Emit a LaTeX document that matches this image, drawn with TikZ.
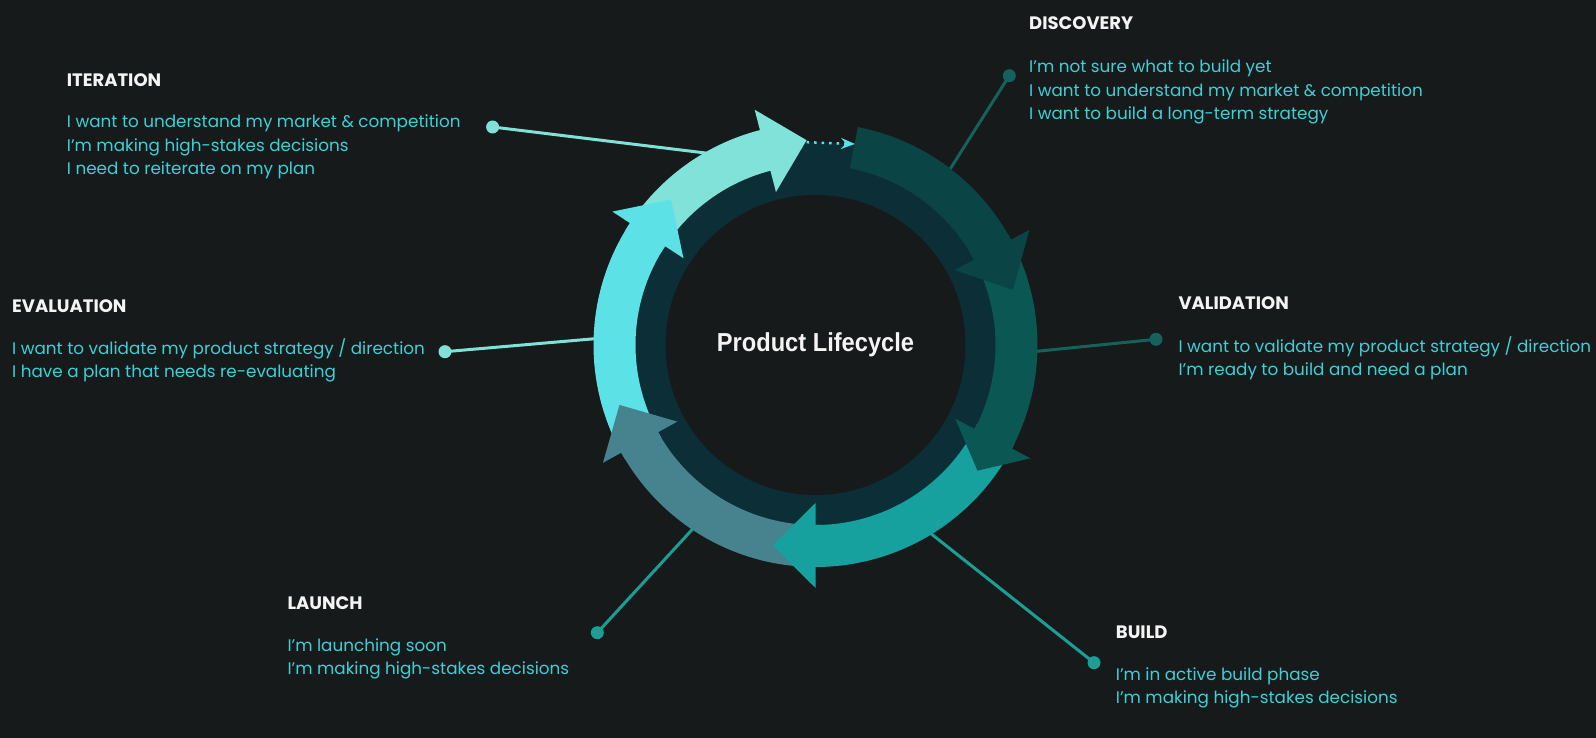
\documentclass[tikz,border=0pt]{standalone}
\usepackage{fontspec}
\setmainfont{Poppins}
\newfontfamily\hubfont[FakeStretch=0.91]{Liberation Sans}
\usetikzlibrary{arrows.meta,positioning}

\definecolor{bgdark}{HTML}{161A1A}
\definecolor{ringdark}{HTML}{0B2E37}
\definecolor{discol}{HTML}{0A4445}
\definecolor{valcol}{HTML}{0B5753}
\definecolor{buildcol}{HTML}{16A19F}
\definecolor{launchcol}{HTML}{47828F}
\definecolor{evalcol}{HTML}{5CE2E6}
\definecolor{itercol}{HTML}{80E2D9}
\definecolor{leaddark}{HTML}{15615B}
\definecolor{leadteal}{HTML}{1C9E95}
\definecolor{leadmint}{HTML}{80E1D8}
\definecolor{titlewhite}{HTML}{F4F4F4}
\definecolor{textcyan}{HTML}{3FCFD7}

% one segment of the cycle: colour, tail angle, head base angle, tip angle
\newcommand{\cyclearrow}[4]{%
  \fill[#1] (#2:222pt) arc[start angle=#2, end angle=#3, radius=222pt]
    -- (#3:243pt) -- (#4:205pt) -- (#3:158pt) -- (#3:180pt)
    arc[start angle=#3, end angle=#2, radius=180pt] -- cycle;
}

\tikzset{
  phasetitle/.style={anchor=base west, inner sep=0pt, text=titlewhite, font=\fontsize{18}{20}\selectfont\bfseries},
  phasetext/.style={anchor=base west, inner sep=0pt, text=textcyan, align=left, font=\fontsize{16.8}{23.5}\selectfont},
  leaddot/.style={circle, inner sep=0pt, minimum size=13pt},
  leader/.style={line width=3pt},
}

\begin{document}
\begin{tikzpicture}[x=1pt, y=1pt]
    \useasboundingbox (0,0) rectangle (1596,738);
    \fill[bgdark] (0,0) rectangle (1596,738);

    % Leader dots
    \node[leaddot, fill=leadmint] (iterdot) at (492.6,611) {};
    \node[leaddot, fill=leaddark] (discdot) at (1009.3,662.3) {};
    \node[leaddot, fill=leaddark] (validot) at (1156,398.7) {};
    \node[leaddot, fill=leadteal] (builddot) at (1094,75.3) {};
    \node[leaddot, fill=leadteal] (launchdot) at (597.3,105.3) {};
    \node[leaddot, fill=leadmint] (evaldot) at (445,386.3) {};

    % Leader ends (under the ring)
    \coordinate (iterend) at (730,582);
    \coordinate (discend) at (940,553);
    \coordinate (valiend) at (1020,385);
    \coordinate (buildend) at (920,213);
    \coordinate (launchend) at (705,222.4);
    \coordinate (evalend) at (610,400.6);

    % Leaders
    \draw[leader, leadmint] (iterdot.center) -- (iterend);
    \draw[leader, leaddark] (discdot.center) -- (discend);
    \draw[leader, leaddark] (validot.center) -- (valiend);
    \draw[leader, leadteal] (builddot.center) -- (buildend);
    \draw[leader, leadteal] (launchdot.center) -- (launchend);
    \draw[leader, leadmint] (evaldot.center) -- (evalend);

    % Ring
    \node[circle, fill=ringdark, minimum size=406pt, inner sep=0pt] (ring) at (815.5,393) {};
    \node[circle, fill=bgdark, minimum size=300pt, inner sep=0pt] (hub) at (815.5,393) {};

    % Cycle arrows
    \begin{scope}[shift={(ring.center)}]
        \cyclearrow{itercol}{-211}{-255.5}{-267.5}
        \cyclearrow{evalcol}{-149}{-213.3}{-225.2}
        \cyclearrow{launchcol}{-88}{-151}{-163}
        \cyclearrow{buildcol}{-26}{-90}{-102}
        \cyclearrow{valcol}{30}{-27.8}{-37.8}
        \cyclearrow{discol}{79}{28.3}{15.6}
        \coordinate (looptail) at (-267.5:203pt);
    \end{scope}
    \coordinate (loopend) at (855,594);
    \draw[evalcol, line width=2.5pt, dash pattern=on 2.5pt off 5pt, -{Stealth[length=14pt, width=11pt, inset=5pt]}] (looptail) -- (loopend);

    % Centre label
    \node[text=titlewhite, font=\hubfont\fontsize{26}{30}\selectfont\bfseries] at (hub.center) {Product Lifecycle};

    % Phase texts (base = last line)
    \node[phasetitle] (itertitle) at (66.7,651.3) {ITERATION};
    \node[phasetext] (itertext) at (66.7,563) {I want to understand my market \& competition\\I’m making high-stakes decisions\\I need to reiterate on my plan};

    \node[phasetitle] (disctitle) at (1029,708) {DISCOVERY};
    \node[phasetext] (disctext) at (1029,618.3) {I’m not sure what to build yet\\I want to understand my market \& competition\\I want to build a long-term strategy};

    \node[phasetitle] (evaltitle) at (12,425.3) {EVALUATION};
    \node[phasetext] (evaltext) at (12,360.3) {I want to validate my product strategy / direction\\I have a plan that needs re-evaluating};

    \node[phasetitle] (valititle) at (1178.3,428) {VALIDATION};
    \node[phasetext] (valitext) at (1178.3,362) {I want to validate my product strategy / direction\\I’m ready to build and need a plan};

    \node[phasetitle] (launchtitle) at (287.3,128) {LAUNCH};
    \node[phasetext] (launchtext) at (287.3,63.3) {I’m launching soon\\I’m making high-stakes decisions};

    \node[phasetitle] (buildtitle) at (1115.7,99.7) {BUILD};
    \node[phasetext] (buildtext) at (1115.7,34) {I’m in active build phase\\I’m making high-stakes decisions};
\end{tikzpicture}
\end{document}
